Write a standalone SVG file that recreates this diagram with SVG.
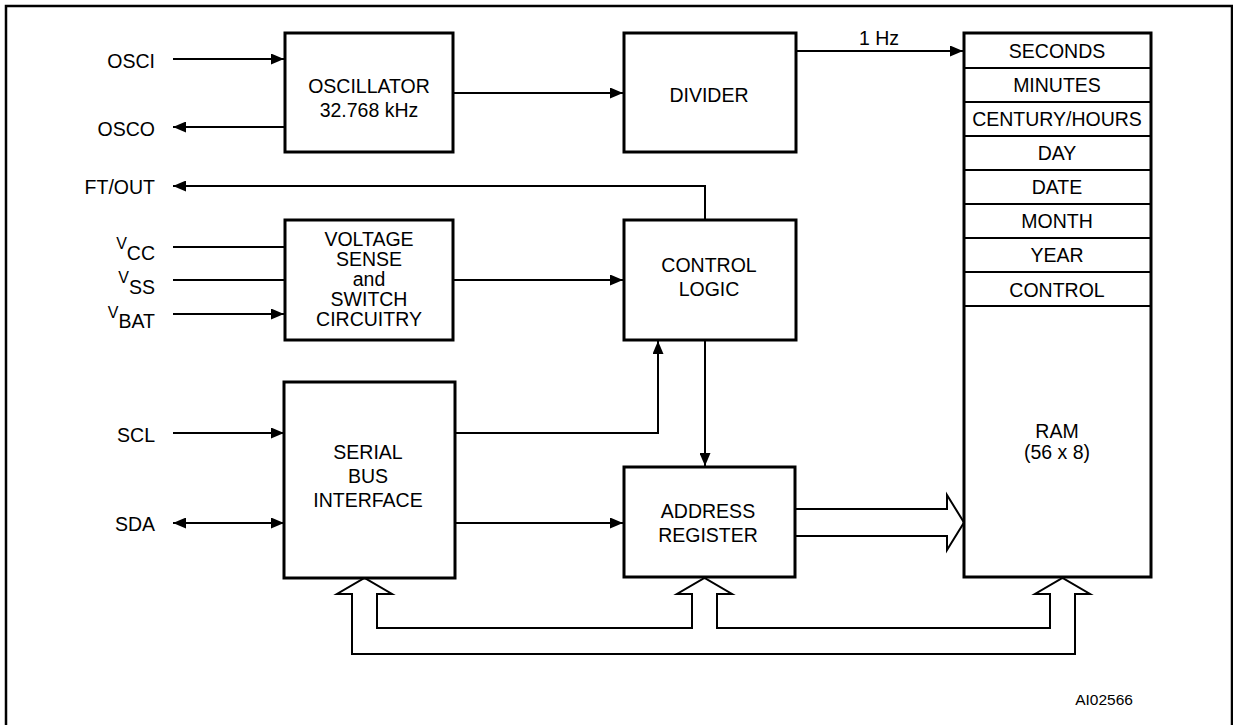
<svg xmlns="http://www.w3.org/2000/svg" width="1233" height="725" viewBox="0 0 1233 725">
<style>
text{font-family:"Liberation Sans",Arial,sans-serif;font-size:19.5px;fill:#000}
.c{text-anchor:middle}
.e{text-anchor:end}
.box{fill:#fff;stroke:#000;stroke-width:3}
.ln{fill:none;stroke:#000;stroke-width:2}
.bus{fill:#fff;stroke:#000;stroke-width:2;stroke-linejoin:miter}
</style>
<defs>
<marker id="ah" viewBox="0 0 13 11" refX="13" refY="5.5" markerWidth="13" markerHeight="11" markerUnits="userSpaceOnUse" orient="auto-start-reverse">
<path d="M0,0 L13,5.5 L0,11 Z" fill="#000"/>
</marker>
</defs>
<rect x="6" y="6" width="1226" height="800" fill="#fff" stroke="#000" stroke-width="2.5"/>

<g id="connectors">
<line class="ln" x1="173" y1="59" x2="284" y2="59" marker-end="url(#ah)"/>
<line class="ln" x1="285" y1="127" x2="173" y2="127" marker-end="url(#ah)"/>
<polyline class="ln" points="705,220 705,186 173,186" marker-end="url(#ah)"/>
<line class="ln" x1="173" y1="247" x2="285" y2="247"/>
<line class="ln" x1="173" y1="280" x2="285" y2="280"/>
<line class="ln" x1="173" y1="314" x2="284" y2="314" marker-end="url(#ah)"/>
<line class="ln" x1="173" y1="433" x2="284" y2="433" marker-end="url(#ah)"/>
<line class="ln" x1="173" y1="523" x2="284" y2="523" marker-start="url(#ah)" marker-end="url(#ah)"/>
<line class="ln" x1="453" y1="93" x2="623" y2="93" marker-end="url(#ah)"/>
<line class="ln" x1="796" y1="51" x2="963" y2="51" marker-end="url(#ah)"/>
<text class="c" x="879" y="45">1 Hz</text>
<line class="ln" x1="453" y1="280" x2="623" y2="280" marker-end="url(#ah)"/>
<polyline class="ln" points="455,433 658,433 658,341" marker-end="url(#ah)"/>
<line class="ln" x1="455" y1="523" x2="623" y2="523" marker-end="url(#ah)"/>
<line class="ln" x1="705" y1="340" x2="705" y2="466" marker-end="url(#ah)"/>
<path class="bus" d="M796,509 H947 V495 L964,522.5 L947,550 V536 H796"/>
<path class="bus" d="M352,654 V594 H337 L364.5,578 L392,594 H377 V628 H692 V594 H677 L704.5,578 L732,594 H717 V628 H1050 V594 H1035 L1062.5,578 L1090,594 H1075 V654 Z"/>
</g>

<g id="labels">
<text class="e" x="155" y="68">OSCI</text>
<text class="e" x="155" y="136">OSCO</text>
<text class="e" x="155" y="194">FT/OUT</text>
<text class="e" x="155" y="249"><tspan font-size="16">V</tspan><tspan dy="11">CC</tspan></text>
<text class="e" x="155" y="283"><tspan font-size="16">V</tspan><tspan dy="11">SS</tspan></text>
<text class="e" x="155" y="318"><tspan font-size="16">V</tspan><tspan dy="10">BAT</tspan></text>
<text class="e" x="155" y="442">SCL</text>
<text class="e" x="155" y="531">SDA</text>
<text class="c" x="1104" y="705" style="font-size:15.5px">AI02566</text>
</g>

<g id="oscillator">
<rect class="box" x="285" y="33" width="168" height="119"/>
<text class="c" x="369" y="93">OSCILLATOR</text>
<text class="c" x="369" y="117">32.768 kHz</text>
</g>

<g id="divider">
<rect class="box" x="624" y="33" width="172" height="119"/>
<text class="c" x="709" y="102">DIVIDER</text>
</g>

<g id="voltage-sense">
<rect class="box" x="285" y="220" width="168" height="120"/>
<text class="c" x="369" y="246">VOLTAGE</text>
<text class="c" x="369" y="266">SENSE</text>
<text class="c" x="369" y="286">and</text>
<text class="c" x="369" y="306">SWITCH</text>
<text class="c" x="369" y="326">CIRCUITRY</text>
</g>

<g id="control-logic">
<rect class="box" x="624" y="220" width="172" height="120"/>
<text class="c" x="709" y="272">CONTROL</text>
<text class="c" x="709" y="296">LOGIC</text>
</g>

<g id="serial-bus">
<rect class="box" x="284" y="382" width="171" height="196"/>
<text class="c" x="368" y="459">SERIAL</text>
<text class="c" x="368" y="483">BUS</text>
<text class="c" x="368" y="507">INTERFACE</text>
</g>

<g id="address-register">
<rect class="box" x="624" y="467" width="171" height="110"/>
<text class="c" x="708" y="518">ADDRESS</text>
<text class="c" x="708" y="542">REGISTER</text>
</g>

<g id="registers">
<rect class="box" x="964" y="33" width="187" height="544"/>
<g class="ln">
<line x1="964" y1="68" x2="1151" y2="68"/>
<line x1="964" y1="102" x2="1151" y2="102"/>
<line x1="964" y1="136" x2="1151" y2="136"/>
<line x1="964" y1="170" x2="1151" y2="170"/>
<line x1="964" y1="204" x2="1151" y2="204"/>
<line x1="964" y1="238" x2="1151" y2="238"/>
<line x1="964" y1="272" x2="1151" y2="272"/>
<line x1="964" y1="306" x2="1151" y2="306"/>
</g>
<text class="c" x="1057" y="58">SECONDS</text>
<text class="c" x="1057" y="92">MINUTES</text>
<text class="c" x="1057" y="126">CENTURY/HOURS</text>
<text class="c" x="1057" y="160">DAY</text>
<text class="c" x="1057" y="194">DATE</text>
<text class="c" x="1057" y="228">MONTH</text>
<text class="c" x="1057" y="262">YEAR</text>
<text class="c" x="1057" y="297">CONTROL</text>
<text class="c" x="1057" y="438">RAM</text>
<text class="c" x="1057" y="459">(56 x 8)</text>
</g>
</svg>
